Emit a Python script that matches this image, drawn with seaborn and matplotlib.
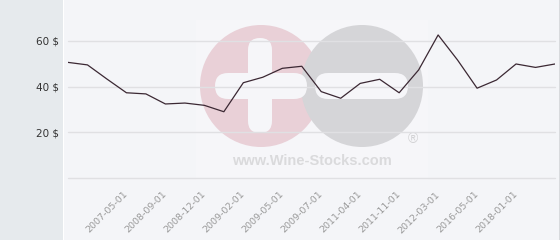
import numpy as np
import pandas as pd
import matplotlib
matplotlib.use("Agg")
import matplotlib.pyplot as plt
import matplotlib.transforms as mtransforms
import seaborn as sns
from matplotlib.patches import Circle, FancyBboxPatch, Rectangle

# ---- data ----
prices = [50.6, 49.5, 43.3, 37.3, 36.8, 32.4, 32.8, 31.8, 29.0, 41.7, 44.1, 48.0, 48.9,
          37.8, 34.9, 41.4, 43.2, 37.3, 47.3, 62.6, 51.6, 39.3, 42.9, 49.9, 48.4, 49.9]
tick_index = [3, 5, 7, 9, 11, 13, 15, 17, 19, 21, 23]
tick_labels = ["2007-05-01", "2008-09-01", "2008-12-01", "2009-02-01", "2009-05-01",
               "2009-07-01", "2011-04-01", "2011-11-01", "2012-03-01", "2016-05-01",
               "2018-01-01"]
y_ticks = [20, 40, 60]
y_tick_labels = ["20 $", "40 $", "60 $"]

df = pd.DataFrame({"idx": np.arange(len(prices)), "price": prices})

sns.set_theme(style="white")
plt.rcParams["font.family"] = ["DejaVu Sans"]

W, H = 560, 240
fig = plt.figure(figsize=(W / 100, H / 100), dpi=100)
fig.patch.set_facecolor("#f4f5f8")

# background / watermark layer in pixel coordinates
bg = fig.add_axes([0, 0, 1, 1], zorder=0)
bg.set_xlim(0, W)
bg.set_ylim(H, 0)
bg.axis("off")
bg.add_patch(Rectangle((0, 0), 63, H, color="#e6eaed", lw=0))
bg.add_patch(Rectangle((63, 0), 1.2, H, color="#ffffff", lw=0))
bg.add_patch(Rectangle((558.5, 0), 1.5, H, color="#d8dadd", lw=0))
bg.add_patch(Rectangle((196, 20), 232, 160, color="#f6f6f9", lw=0))
bg.add_patch(Circle((261, 86), 61, color="#e9d0d7", lw=0))
bg.add_patch(Circle((362, 86), 61, color="#d5d5d8", lw=0))
bg.add_patch(FancyBboxPatch((248, 38), 24, 95, boxstyle="round,pad=0,rounding_size=12",
                            color="#f6f6f9", lw=0))
bg.add_patch(FancyBboxPatch((215, 73), 92, 26, boxstyle="round,pad=0,rounding_size=13",
                            color="#f6f6f9", lw=0))
bg.add_patch(FancyBboxPatch((315, 73), 93, 26, boxstyle="round,pad=0,rounding_size=13",
                            color="#f6f6f9", lw=0))
bg.text(312, 161, "www.Wine-Stocks.com", ha="center", va="center",
        fontsize=10.5, fontweight="bold", color="#dadadc", family=["Liberation Sans", "DejaVu Sans"])
bg.text(413, 139, "®", ha="center", va="center", fontsize=10,
        color="#d2d2d4", family=["Liberation Sans", "DejaVu Sans"])

# main chart
ax = fig.add_axes([68 / W, 1 - 178 / H, (555 - 68) / W, 178 / H], zorder=2)
ax.patch.set_alpha(0)
sns.lineplot(data=df, x="idx", y="price", ax=ax, color="#3b2833", linewidth=0.9)
ax.set_xlim(0, len(prices) - 1)
ax.set_ylim(0, 77.9)
for v in [0] + y_ticks:
    ax.axhline(v, color="#e0e0e3", lw=1, zorder=0, clip_on=False)
ax.set_yticks(y_ticks)
ax.set_yticklabels(y_tick_labels, fontsize=7.5, color="#333333")
ax.set_xticks(tick_index)
ax.set_xticklabels(tick_labels, rotation=45, ha="right", va="top",
                   rotation_mode="anchor", fontsize=6.8, color="#9a9a9a")
ax.tick_params(axis="y", length=0, pad=6.5)
ax.tick_params(axis="x", length=0, pad=8.5)
shift = mtransforms.ScaledTranslation(-3 / 100, 0, fig.dpi_scale_trans)
for lbl in ax.get_xticklabels():
    lbl.set_transform(lbl.get_transform() + shift)
ax.set_xlabel("")
ax.set_ylabel("")
for s in ax.spines.values():
    s.set_visible(False)
ax.grid(False)

fig.savefig("out.png", dpi=100, facecolor=fig.get_facecolor())
